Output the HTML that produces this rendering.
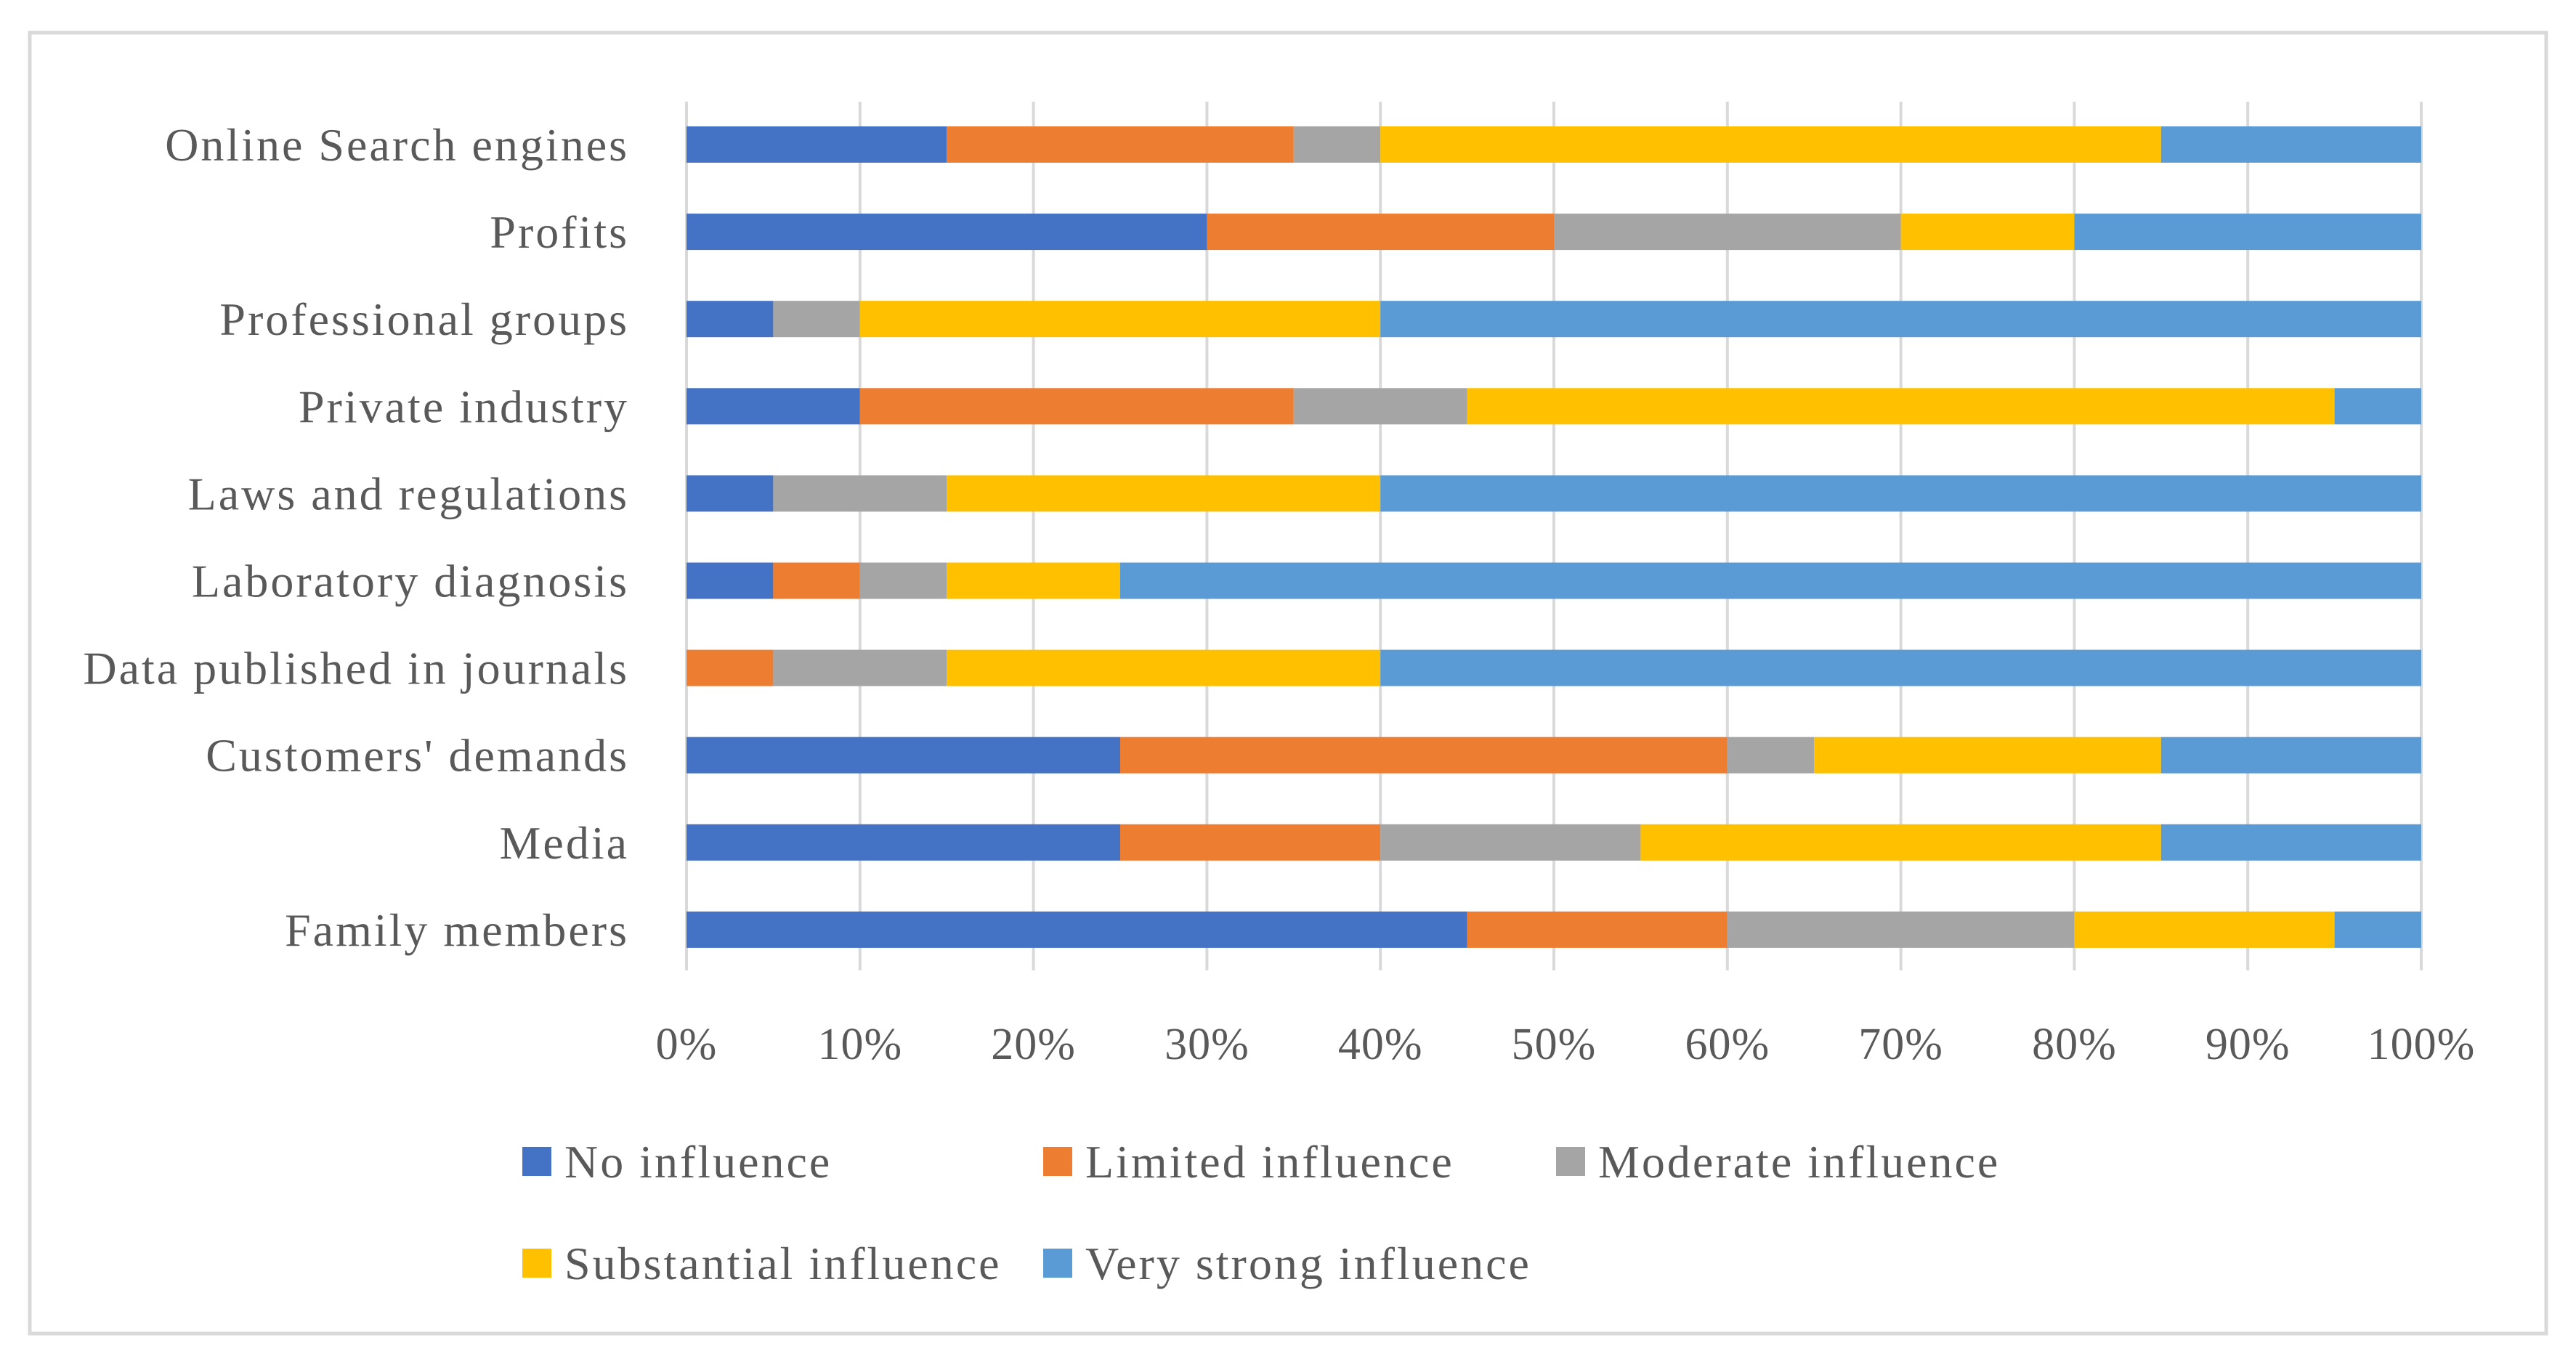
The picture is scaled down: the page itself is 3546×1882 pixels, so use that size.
<!DOCTYPE html>
<html><head><meta charset="utf-8"><style>
html,body{margin:0;padding:0;background:#fff;}
svg{display:block;font-family:"Liberation Serif",serif;}
</style></head><body>
<svg id="chart" width="3546" height="1882" viewBox="0 0 3546 1882">
<rect x="41" y="45" width="3464" height="1791" fill="#fff" stroke="#d9d9d9" stroke-width="5"/>
<g id="grid"></g><g id="bars"></g><g id="labels"></g><g id="ticks"></g><g id="legend"></g>
</svg>
<script>
const categories = ["Online Search engines","Profits","Professional groups","Private industry","Laws and regulations","Laboratory diagnosis","Data published in journals","Customers' demands","Media","Family members"];
const seriesNames = ["No influence","Limited influence","Moderate influence","Substantial influence","Very strong influence"];
const noInfluence = [15,30,5,10,5,5,0,25,25,45];
const limitedInfluence = [20,20,0,25,0,5,5,35,15,15];
const moderateInfluence = [5,20,5,10,10,5,10,5,15,20];
const substantialInfluence = [45,10,30,50,25,10,25,20,30,15];
const veryStrongInfluence = [15,20,60,5,60,75,60,15,15,5];
const tickValues = [0,10,20,30,40,50,60,70,80,90,100];
const tickLabels = ["0%","10%","20%","30%","40%","50%","60%","70%","80%","90%","100%"];

const colors = ["#4472c4","#ed7d31","#a5a5a5","#ffc000","#5b9bd5"];
const series = [noInfluence,limitedInfluence,moderateInfluence,substantialInfluence,veryStrongInfluence];
const NS = "http://www.w3.org/2000/svg";
const X0 = 945, X1 = 3333, Y0 = 199, STEP = 120.1, BH = 50;
const x = v => X0 + (X1 - X0) * v / 100;
const y = i => Y0 + i * STEP;
function mk(tag, attrs, parent){ const e = document.createElementNS(NS, tag); for (const k in attrs) e.setAttribute(k, attrs[k]); parent.appendChild(e); return e; }
const grid = document.getElementById('grid'), bars = document.getElementById('bars'), labels = document.getElementById('labels'), ticks = document.getElementById('ticks'), legend = document.getElementById('legend');

tickValues.forEach((t, i) => {
  const l = mk('line', {x1:x(t), x2:x(t), y1:140, y2:1336, stroke:'#d9d9d9', 'stroke-width':4}, grid);
  
  
  const tx = mk('text', {x:x(t), y:1458, 'text-anchor':'middle', 'font-size':62, 'letter-spacing':1, fill:'#595959'}, ticks);
  tx.textContent = tickLabels[i];
  
  
});

categories.forEach((c, i) => {
  let acc = 0;
  series.forEach((s, j) => {
    const v = s[i];
    if (v > 0) {
      const r = mk('rect', {x:x(acc), y:y(i) - BH/2, width:x(acc + v) - x(acc), height:BH, fill:colors[j]}, bars);
      
      
    }
    acc += v;
  });
  const t = mk('text', {x:866, y:y(i) + 22, 'text-anchor':'end', 'font-size':64, 'letter-spacing':3, fill:'#595959'}, labels);
  t.textContent = c;
  
  
});

const legendPos = [[719,1599],[1436,1599],[2142,1599],[719,1739],[1436,1739]];
seriesNames.forEach((n, j) => {
  const g = mk('g', {}, legend);
  
  
  const [lx, ly] = legendPos[j];
  mk('rect', {x:lx, y:ly - 20, width:40, height:40, fill:colors[j]}, g);
  const t = mk('text', {x:lx + 58, y:ly + 22, 'font-size':64, 'letter-spacing':3, fill:'#595959'}, g);
  t.textContent = n;
});
</script>
</body></html>
